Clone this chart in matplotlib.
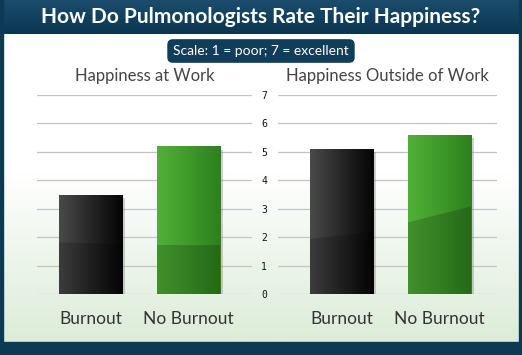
import numpy as np
import matplotlib
matplotlib.use('Agg')
import matplotlib.pyplot as plt
from matplotlib.colors import LinearSegmentedColormap
from matplotlib.patches import Rectangle

plt.rcParams['font.family'] = ['Lato', 'DejaVu Sans']

# data
categories = ['Burnout', 'No Burnout']
work_scores = [3.5, 5.2]
outside_scores = [5.1, 5.6]
panel_titles = ['Happiness at Work', 'Happiness Outside of Work']
y_ticks = [0, 1, 2, 3, 4, 5, 6, 7]

W, H = 522, 355
fig = plt.figure(figsize=(W / 100, H / 100), dpi=100)

# background: white fading to pale green
bg = fig.add_axes([0, 0, 1, 1])
bg.axis('off')
grad = np.linspace(0, 1, 256).reshape(-1, 1)
bg_cmap = LinearSegmentedColormap.from_list('bg', [(0, '#ffffff'), (0.45, '#ffffff'), (1, '#dcecd8')])
bg.imshow(grad, extent=[0, W, 342, 34], cmap=bg_cmap, aspect='auto', origin='upper')
# title band, bottom band and side borders
band_cmap = LinearSegmentedColormap.from_list('band', ['#1b4d6d', '#0b3550'])
bg.imshow(grad, extent=[0, W, 34, 0], cmap=band_cmap, aspect='auto', origin='upper')
bg.add_patch(Rectangle((0, 342), W, 13, color='#0c3a55'))
bg.add_patch(Rectangle((0, 0), 3, H, color='#0c3a55'))
bg.add_patch(Rectangle((W - 3, 0), 3, H, color='#0c3a55'))
bg.set_xlim(0, W)
bg.set_ylim(H, 0)

fig.text(0.5, 1 - 17 / H, 'How Do Pulmonologists Rate Their Happiness?', color='white',
         fontsize=15, fontweight='bold', ha='center', va='center')
fig.text(0.5, 1 - 51 / H, 'Scale: 1 = poor; 7 = excellent', color='white', fontsize=10,
         ha='center', va='center',
         bbox=dict(boxstyle='round,pad=0.42,rounding_size=0.4', fc='#0f3d5a', ec='none'))

black_cmap = LinearSegmentedColormap.from_list('blk', ['#4a4a4a', '#262626', '#050505'])
green_cmap = LinearSegmentedColormap.from_list('grn', ['#52b038', '#3f9a2a', '#2e7f1e'])
# glossy split line of each bar (left, right), as fraction of bar height
gloss = [[(0.52, 0.50), (0.33, 0.33)], [(0.38, 0.43), (0.45, 0.55)]]


def draw_panel(rect, values, xlim, title, gloss_pts, show_ticks):
    ax = fig.add_axes(rect)
    ax.patch.set_alpha(0)
    ax.set_xlim(*xlim)
    ax.set_ylim(0, 7)
    ax.set_yticks(y_ticks)
    ax.grid(axis='y', color='#c4c4c4', lw=0.9)
    ax.set_axisbelow(True)
    for s in ax.spines.values():
        s.set_visible(False)
    ax.tick_params(length=0)
    if show_ticks:
        ax.tick_params(axis='y', labelsize=7, pad=8, labelcolor='#111111')
        for t in ax.get_yticklabels():
            t.set_family('DejaVu Sans Mono')
    else:
        ax.set_yticklabels([])
    ax.set_xticks(range(len(categories)))
    ax.set_xticklabels(categories, fontsize=12.5, color='#333333')
    ax.tick_params(axis='x', pad=12)
    ax.set_title(title, fontsize=12, color='#444444', pad=10)

    width = 0.643
    # drop shadows
    ax.bar(np.arange(len(values)) + 0.035, np.array(values) - 0.06, width, bottom=-0.06,
           color='#7a7a7a', alpha=0.35, zorder=2)
    bars = ax.bar(range(len(values)), values, width, color='none', zorder=3)
    cmaps = [black_cmap, green_cmap]
    hgrad = np.linspace(0, 1, 128).reshape(1, -1)
    for i, b in enumerate(bars):
        x0, h = b.get_x(), b.get_height()
        x1 = x0 + b.get_width()
        im = ax.imshow(hgrad, extent=[x0, x1, 0, h], cmap=cmaps[i], aspect='auto', zorder=3)
        im.set_clip_path(b)
        # darker lower part below the gloss line
        gl, gr = gloss_pts[i]
        poly = plt.Polygon([(x0, 0), (x1, 0), (x1, gr * h), (x0, gl * h)],
                           color='black', alpha=0.18, lw=0, zorder=4)
        ax.add_patch(poly)
        poly.set_clip_path(b)
    ax.set_xlim(*xlim)
    ax.set_ylim(0, 7)
    return ax


bottom = (H - 294) / H
height = (294 - 95) / H
draw_panel([37 / W, bottom, (252 - 37) / W, height], work_scores, (-0.546, 1.648),
           panel_titles[0], gloss[0], False)
draw_panel([278 / W, bottom, (497 - 278) / W, height], outside_scores, (-0.648, 1.587),
           panel_titles[1], gloss[1], True)

fig.savefig('out.png', dpi=100)
